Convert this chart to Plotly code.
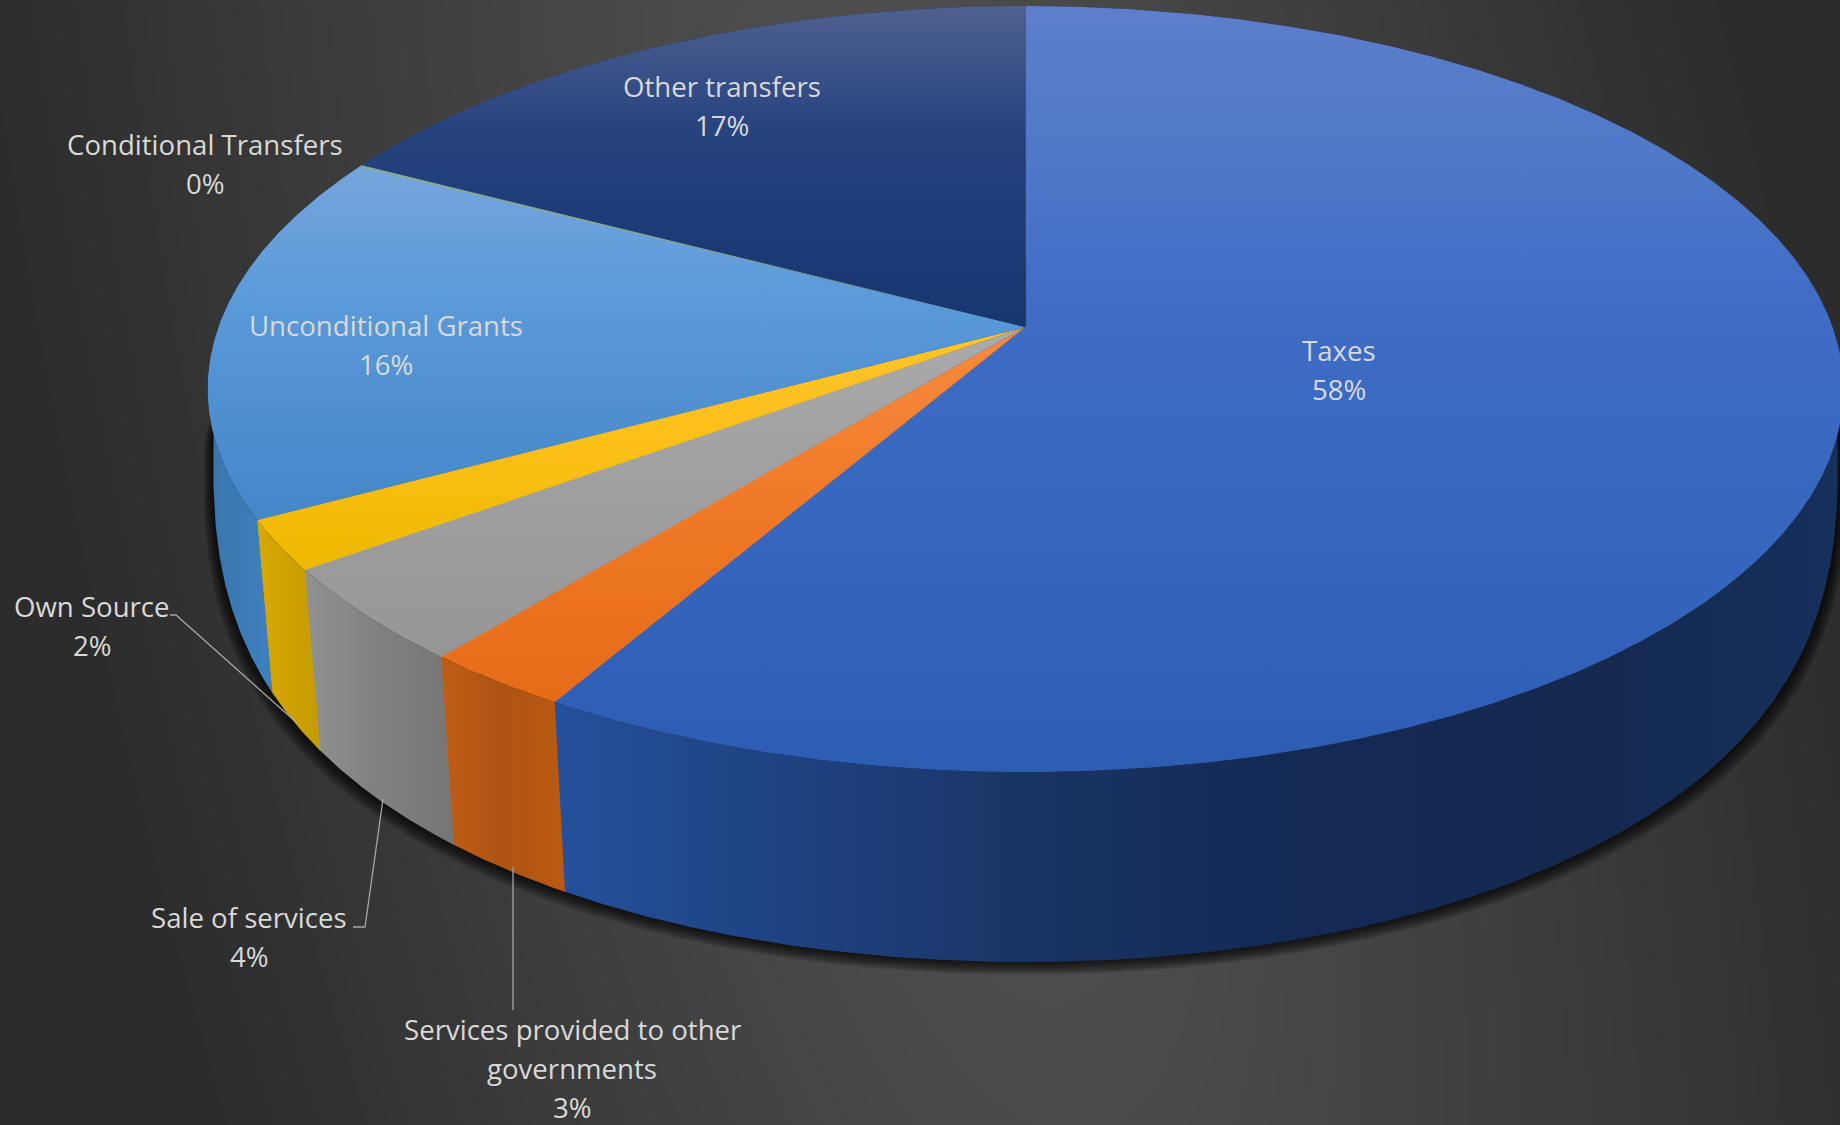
import numpy as np
import plotly.graph_objects as go

# Revenue shares, clockwise from twelve o'clock
categories = ["Taxes", "Services provided to other<br>governments", "Sale of services",
              "Own Source", "Unconditional Grants", "Conditional Transfers", "Other transfers"]
shares = [58.4, 2.55, 4.05, 2.1, 15.55, 0.1, 17.25]

top_stops = [
    [(6, "#5d7ecb"), (150, "#5079c9"), (300, "#3f6dc6"), (500, "#3767bf"), (772, "#2d5db3")],
    [(327, "#f98a3e"), (500, "#f07a28"), (704, "#e56b17")],
    [(327, "#ababab"), (450, "#a2a2a2"), (661, "#959595")],
    [(327, "#ffc42f"), (430, "#fdc01a"), (569, "#eeb900")],
    [(165, "#76a5dd"), (300, "#5b9ad9"), (519, "#4486c8")],
    [(165, "#86ab98"), (327, "#7fa58c")],
    [(6, "#4f618f"), (70, "#3a5188"), (130, "#27437e"), (200, "#1f3e79"), (327, "#163670")],
]
wall_stops = [
    [(556, "#25509a"), (800, "#1e4180"), (1020, "#193566"), (1250, "#142a56"), (1600, "#14294f"), (1840, "#16305c")],
    [(446, "#bf5c15"), (500, "#ad5412"), (567, "#bb5a12")],
    [(303, "#929292"), (380, "#808080"), (458, "#757575")],
    [(255, "#d9a905"), (319, "#c59b00")],
    [(206, "#3a74ab"), (272, "#3f80bf")],
    [(350, "#6f9f6a"), (360, "#6f9f6a")],
    [(358, "#1d3c75"), (1025, "#1d3c75")],
]
label_spots = [(1339, 350), (572, 1029), (249, 917), (92, 606), (386, 325), (205, 144), (722, 86)]
leaders = [
    ([170, 176, 297], [615, 615, 723]),
    ([353, 365, 383], [927, 927, 799]),
    ([513, 513], [1010, 867]),
]

APEX_X, APEX_Y = 1025.6, 327.0
HALF_W, HALF_D, TILT = 807.0, 373.0, 0.162
BASE_CY, BASE_FRONT, BASE_BACK, BASE_HW, BASE_POWER = 450.0, 512.0, 200.0, 812.5, 0.38
OVERLAP = 0.12
RIM_REACH = HALF_W / np.sqrt(1 - TILT ** 2)


def rim(deg):
    """Project points on the pie's circular rim to the page with perspective."""
    t = np.radians(deg)
    w = 1 + TILT * np.cos(t)
    return APEX_X + HALF_W * np.sin(t) / w, APEX_Y - HALF_D * np.cos(t) / w


def base(deg):
    """The matching points on the disc's lower rim; its far half stays behind the top face."""
    x, _ = rim(deg)
    u = np.abs(x - APEX_X) / RIM_REACH
    dx = (0.978 + 0.015 * u ** 30) * (x - APEX_X)
    offset = np.where(np.cos(np.radians(deg)) < -TILT, BASE_FRONT, -BASE_BACK)
    depth = np.clip(1 - (dx / BASE_HW) ** 2, 0, None) ** BASE_POWER
    return APEX_X + dx, BASE_CY + offset * depth


def gradient(kind, stops):
    lo, hi = stops[0][0], stops[-1][0]
    return dict(type=kind, start=lo, stop=hi,
                colorscale=[[(p - lo) / (hi - lo), c] for p, c in stops])


def poly(x, y, **style):
    return go.Scatter(x=list(x), y=list(y), mode="lines", fill="toself", line=dict(width=0),
                      hoverinfo="skip", showlegend=False, **style)


# Page backdrop: soft glow, slightly slanted, falling off to the dark sides
gx = np.linspace(0, 1840, 185)
gy = np.linspace(0, 1125, 114)
XX, YY = np.meshgrid(gx, gy)
reach = np.hypot(XX - (850 + 0.2 * YY), 0.34 * (YY - 450))
glow = np.clip(84 - 0.045 * reach, 44, None)

fig = go.Figure()
fig.add_trace(go.Heatmap(x=gx, y=gy, z=glow, zmin=0, zmax=255, zsmooth="best", showscale=False,
                         colorscale=[[0, "#000000"], [1, "#ffffff"]], hoverinfo="skip"))

# Contact shadow around the base
full = np.linspace(0, 360, 1441)
bx, by = base(full)
for k in range(1, 9):
    fig.add_trace(poly(APEX_X + (bx - APEX_X) * (1 + 0.0015 * k), by + 1.6 * k,
                       fillcolor="rgba(0,0,0,0.13)"))

edges = np.concatenate([[0], np.cumsum(shares) / sum(shares) * 360])


def slice_arc(i):
    start = max(0.0, edges[i] - OVERLAP)
    return np.linspace(start, edges[i + 1], max(3, int(edges[i + 1] - start) * 4))


# Side walls first, then the top face over them
for i in range(len(shares)):
    arc = slice_arc(i)
    tx, ty = rim(arc)
    lx, ly = base(arc)
    fig.add_trace(poly(np.r_[tx, lx[::-1], tx[0]], np.r_[ty, ly[::-1], ty[0]],
                       fillgradient=gradient("horizontal", wall_stops[i])))

for i in range(len(shares)):
    tx, ty = rim(slice_arc(i))
    fig.add_trace(poly(np.r_[APEX_X, tx, APEX_X], np.r_[APEX_Y, ty, APEX_Y],
                       fillgradient=gradient("vertical", top_stops[i])))

# Leader lines
for lx, ly in leaders:
    fig.add_trace(go.Scatter(x=lx, y=ly, mode="lines", line=dict(color="#a6a6a6", width=1.3),
                             hoverinfo="skip", showlegend=False))

# Data labels, one annotation per text line
LINE_GAP = 39
annotations = []
for name, share, (lx, ly) in zip(categories, shares, label_spots):
    for j, line in enumerate(name.split("<br>") + [f"{share:.0f}%"]):
        annotations.append(dict(x=lx, y=ly + j * LINE_GAP, text=line, showarrow=False,
                                xref="x", yref="y", xanchor="center", yanchor="middle",
                                font=dict(family="Open Sans", size=27.6, color="#d9d9d9")))

fig.update_layout(
    width=1840, height=1125, margin=dict(l=0, r=0, t=0, b=0),
    paper_bgcolor="#3a3a3a", plot_bgcolor="#3a3a3a", showlegend=False,
    xaxis=dict(range=[0, 1840], visible=False, fixedrange=True),
    yaxis=dict(range=[1125, 0], visible=False, fixedrange=True),
    annotations=annotations,
)
fig.write_html("out.html", config=dict(displayModeBar=False))
